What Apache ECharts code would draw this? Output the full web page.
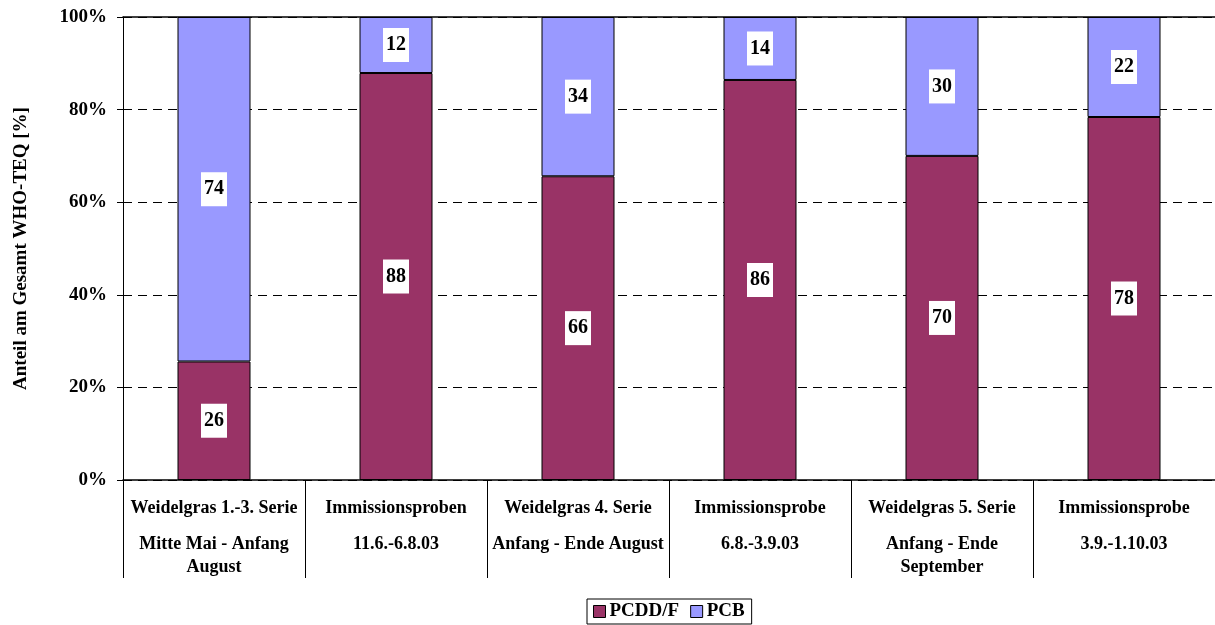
<!DOCTYPE html>
<html lang="de">
<head>
<meta charset="UTF-8">
<style>
html, body { height: 100%; margin: 0; background: #fff; }
</style>
</head>
<body>
<div id="chart" style="width:1215px;height:625px;"></div>
<script src="https://cdn.jsdelivr.net/npm/echarts@6/dist/echarts.min.js"></script>
<script>
// data
var categories = [
    'Weidelgras 1.-3. Serie\n\nMitte Mai - Anfang\nAugust',
    'Immissionsproben\n\n11.6.-6.8.03',
    'Weidelgras 4. Serie\n\nAnfang - Ende August',
    'Immissionsprobe\n\n6.8.-3.9.03',
    'Weidelgras 5. Serie\n\nAnfang - Ende\nSeptember',
    'Immissionsprobe\n\n3.9.-1.10.03'
];
var pcdd = [25.6, 87.9, 65.6, 86.4, 70.0, 78.4];
var pcb = [74.4, 12.1, 34.4, 13.6, 30.0, 21.6];
var yTicks = [0, 20, 40, 60, 80, 100];

var font = 'Liberation Serif';
var myChart = echarts.init(document.getElementById('chart'));

// category label: title line, then a smaller gap, then the date lines
function catLabel(v) {
    var parts = v.split('\n\n');
    var out = ['{a|' + parts[0] + '}', '{g| }'];
    parts[1].split('\n').forEach(function (l) { out.push('{a|' + l + '}'); });
    return out.join('\n');
}

var segLabel = {
    show: true,
    position: 'inside',
    formatter: function (p) { return Math.round(p.value); },
    color: '#000',
    fontFamily: font,
    fontWeight: 'bold',
    fontSize: 20,
    lineHeight: 22,
    backgroundColor: '#fff',
    padding: [7, 3, 5, 3]
};

myChart.setOption({
    animation: false,
    grid: { left: 123, right: -2, top: 17, bottom: 145 },
    legend: {
        bottom: 1,
        left: 587,
        itemWidth: 12,
        itemHeight: 12,
        itemGap: 11,
        padding: [3, 7, 3, 6],
        borderColor: '#000',
        borderWidth: 1,
        borderRadius: 0,
        textStyle: { fontFamily: font, fontWeight: 'bold', fontSize: 19, color: '#000', padding: [0, 0, 0, -1] },
        data: [
            { name: 'PCDD/F', icon: 'rect', itemStyle: { borderColor: '#000', borderWidth: 1 } },
            { name: 'PCB', icon: 'rect', itemStyle: { borderColor: '#000', borderWidth: 1 } }
        ]
    },
    xAxis: [
        {
            type: 'category',
            data: categories,
            axisLine: { lineStyle: { color: '#000', width: 1.5 } },
            axisTick: { show: true, interval: 0, length: 98, lineStyle: { color: '#000' } },
            axisLabel: {
                interval: 0,
                margin: 17,
                formatter: catLabel,
                rich: {
                    a: { color: '#000', fontFamily: font, fontWeight: 'bold', fontSize: 18, lineHeight: 22.5 },
                    g: { fontSize: 10, lineHeight: 14 }
                }
            }
        },
        {
            type: 'category',
            position: 'top',
            data: categories,
            axisLine: { lineStyle: { color: '#000', width: 1.5 } },
            axisTick: { show: false },
            axisLabel: { show: false }
        }
    ],
    yAxis: {
        type: 'value',
        min: yTicks[0],
        max: yTicks[yTicks.length - 1],
        interval: 20,
        name: 'Anteil am Gesamt WHO-TEQ [%]',
        nameLocation: 'middle',
        nameGap: 92,
        nameTextStyle: { fontFamily: font, fontWeight: 'bold', fontSize: 19, color: '#000' },
        axisLine: { show: true, lineStyle: { color: '#000' } },
        axisTick: { show: true, length: 6, lineStyle: { color: '#000' } },
        axisLabel: {
            formatter: '{value}%',
            margin: 16,
            color: '#000',
            fontFamily: font,
            fontWeight: 'bold',
            fontSize: 19
        },
        splitLine: { lineStyle: { color: '#000', type: [9, 6], width: 1 } }
    },
    series: [
        {
            name: 'PCDD/F',
            type: 'bar',
            stack: 'total',
            barWidth: 73,
            data: pcdd,
            itemStyle: { color: '#993366', borderColor: '#000', borderWidth: 1 },
            label: segLabel
        },
        {
            name: 'PCB',
            type: 'bar',
            stack: 'total',
            barWidth: 73,
            data: pcb,
            itemStyle: { color: '#9999FF', borderColor: '#000', borderWidth: 1 },
            label: segLabel
        }
    ]
});
</script>
</body>
</html>
